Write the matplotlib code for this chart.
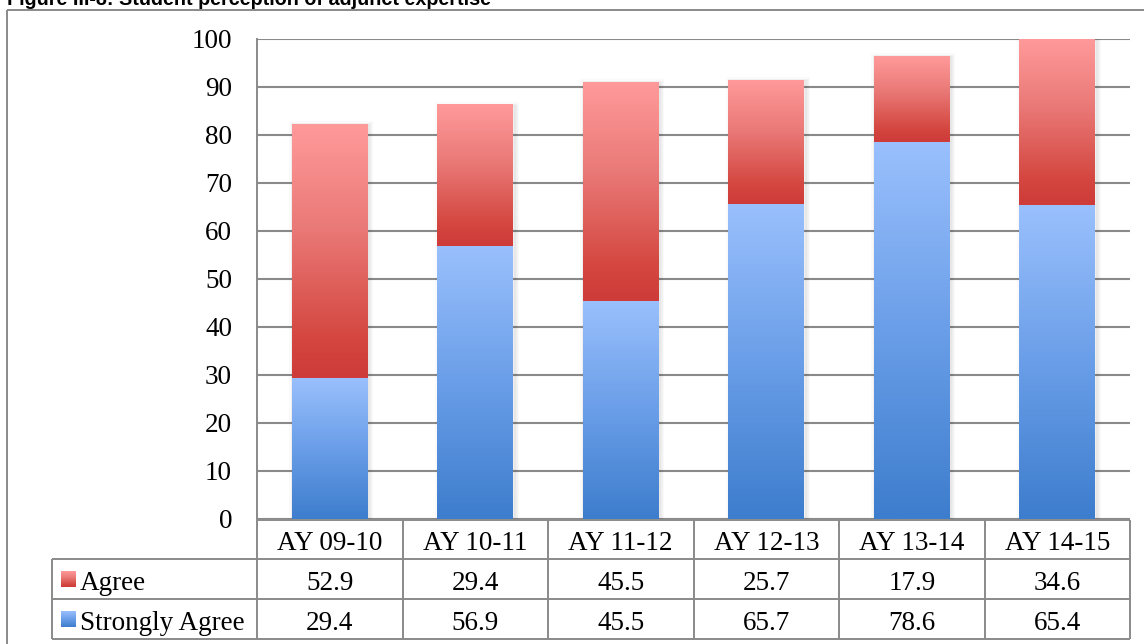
import numpy as np
import matplotlib
matplotlib.use("Agg")
import matplotlib.pyplot as plt
from matplotlib.colors import LinearSegmentedColormap
from matplotlib.patches import Rectangle
from matplotlib.transforms import ScaledTranslation

# ---- data ----
years = ["AY 09-10", "AY 10-11", "AY 11-12", "AY 12-13", "AY 13-14", "AY 14-15"]
agree = [52.9, 29.4, 45.5, 25.7, 17.9, 34.6]
strongly_agree = [29.4, 56.9, 45.5, 65.7, 78.6, 65.4]
series_names = ["Agree", "Strongly Agree"]
y_ticks = [0, 10, 20, 30, 40, 50, 60, 70, 80, 90, 100]
title = "Figure III-8: Student perception of adjunct expertise"

# ---- style ----
W, H = 1144, 644
SERIF = "Liberation Serif"
TXT = 19.5
GRID = "#8a8a8a"
blue_cmap = LinearSegmentedColormap.from_list(
    "sa", [(0.0, "#3D7DCD"), (0.5, "#6A9EE8"), (1.0, "#9AC0FD")])
red_cmap = LinearSegmentedColormap.from_list(
    "ag", [(0.0, "#CE3B39"), (0.15, "#D4463F"), (0.6, "#EA7A78"), (1.0, "#FF9A9A")])
grad = np.linspace(0, 1, 256).reshape(-1, 1)

fig = plt.figure(figsize=(W / 100, H / 100), dpi=100)

# pixel-space overlay for frame, title and data table
overlay = fig.add_axes([0, 0, 1, 1])
overlay.set_facecolor("none")
overlay.axis("off")

# plot area
px_left, px_right, px_top, px_zero = 257, 1130, 39, 519
ax = fig.add_axes([px_left / W, 1 - px_zero / H,
                   (px_right - px_left) / W, (px_zero - px_top) / H])
ax.set_facecolor("white")

x = np.arange(len(years))
width = 0.52
totals = [a + s for a, s in zip(agree, strongly_agree)]

# soft shadow around each stacked column
for i, total in enumerate(totals):
    for lw, alpha in ((8, 0.02), (5, 0.03), (2.5, 0.045)):
        r = Rectangle((x[i] - width / 2, 0), width, total,
                      facecolor="none", edgecolor="black", alpha=alpha,
                      linewidth=lw * 0.72, zorder=2,
                      transform=ax.transData + ScaledTranslation(0.015, -0.008, fig.dpi_scale_trans))
        ax.add_patch(r)

sa_bars = ax.bar(x, strongly_agree, width, facecolor="none", edgecolor="none", zorder=3)
ag_bars = ax.bar(x, agree, width, bottom=strongly_agree, facecolor="none",
                 edgecolor="none", zorder=3)


def fill_gradient(axis, patch, cmap):
    x0, y0 = patch.get_x(), patch.get_y()
    w, h = patch.get_width(), patch.get_height()
    axis.imshow(grad, cmap=cmap, extent=(x0, x0 + w, y0, y0 + h), origin="lower",
                aspect="auto", interpolation="bilinear", zorder=3)


for p in sa_bars:
    fill_gradient(ax, p, blue_cmap)
for p in ag_bars:
    fill_gradient(ax, p, red_cmap)

ax.set_xlim(-0.5, len(years) - 0.5)
ax.set_ylim(0, 100)
ax.set_yticks(y_ticks)
ax.set_yticklabels([str(t) for t in y_ticks], fontfamily=SERIF, fontsize=TXT)
ax.set_xticks([])
ax.tick_params(axis="y", length=0, pad=18)
ax.set_axisbelow(True)
ax.yaxis.grid(True, color=GRID, linewidth=1.5)
for side in ("top", "right", "bottom"):
    ax.spines[side].set_visible(False)
ax.spines["left"].set_color(GRID)
ax.spines["left"].set_linewidth(1.4)

# ---- outer frame and title ----
line_kw = dict(color=GRID, linewidth=1.4, solid_capstyle="butt")
overlay.plot([7, 7], [10, H + 5], **line_kw)
overlay.plot([7, W + 5], [10, 10], **line_kw)
overlay.text(7, 4.5, title, fontfamily="Liberation Sans", fontweight="bold",
             fontsize=14.2, va="baseline", ha="left")

# ---- data table ----
col_w = (px_right - px_left) / len(years)
col_edges = [px_left + k * col_w for k in range(len(years) + 1)]
row_edges = [520, 559, 599, 639]
tab_left = 52

overlay.plot([px_left, px_right], [row_edges[0]] * 2, **line_kw)
for yy in row_edges[1:]:
    overlay.plot([tab_left, px_right], [yy, yy], **line_kw)
for xx in col_edges:
    overlay.plot([xx, xx], [row_edges[0], row_edges[-1]], **line_kw)
overlay.plot([tab_left, tab_left], [row_edges[1], row_edges[-1]], **line_kw)


def row_mid(r):
    return (row_edges[r] + row_edges[r + 1]) / 2 + 1


for i, yr in enumerate(years):
    cx = (col_edges[i] + col_edges[i + 1]) / 2
    overlay.text(cx, row_mid(0), yr, fontfamily=SERIF, fontsize=TXT,
                 ha="center", va="center_baseline")
    overlay.text(cx, row_mid(1), f"{agree[i]:.1f}", fontfamily=SERIF, fontsize=TXT,
                 ha="center", va="center_baseline")
    overlay.text(cx, row_mid(2), f"{strongly_agree[i]:.1f}", fontfamily=SERIF,
                 fontsize=TXT, ha="center", va="center_baseline")

for r, (name, cmap) in enumerate(zip(series_names, (red_cmap, blue_cmap)), start=1):
    cy = row_mid(r) - 1
    overlay.imshow(grad, cmap=cmap, extent=(61, 76, cy + 8, cy - 8), origin="lower",
                   aspect="auto", interpolation="bilinear")
    overlay.text(80, row_mid(r), name, fontfamily=SERIF, fontsize=TXT,
                 ha="left", va="center_baseline")

overlay.set_xlim(0, W)
overlay.set_ylim(H, 0)

fig.savefig("out.png", dpi=100)
